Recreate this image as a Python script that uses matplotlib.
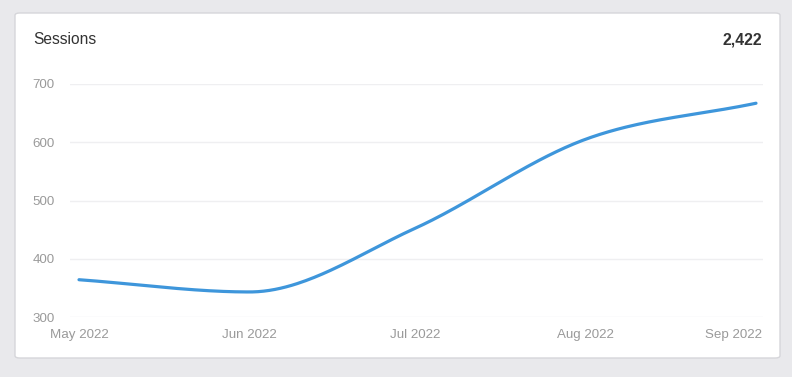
import numpy as np
import matplotlib.pyplot as plt
import matplotlib.dates as mdates
import matplotlib.transforms as mtransforms
from matplotlib.patches import FancyBboxPatch

plt.rcParams['font.family'] = ['Liberation Sans', 'DejaVu Sans']

dates = np.array(['2022-05-01', '2022-06-01', '2022-07-01', '2022-08-01', '2022-09-01'],
                 dtype='datetime64[D]')
months = ['May 2022', 'Jun 2022', 'Jul 2022', 'Aug 2022', 'Sep 2022']
sessions = [364, 343, 452, 605, 667]
y_ticks = [300, 400, 500, 600, 700]
total_label = '2,422'

W, H = 792, 377
line_color = '#3e96db'
grid_color = '#efeff1'
tick_color = '#9a9a9a'


def monotone_curve(xs, ys, n=60):
    # Fritsch-Carlson monotone cubic, like chart.js 'monotone'
    xs = np.asarray(xs, float)
    ys = np.asarray(ys, float)
    h = np.diff(xs)
    d = np.diff(ys) / h
    m = np.zeros_like(ys)
    m[0], m[-1] = d[0], d[-1]
    for i in range(1, len(ys) - 1):
        if d[i - 1] * d[i] <= 0:
            m[i] = 0
        else:
            m[i] = (d[i - 1] + d[i]) / 2
    for i in range(len(d)):
        if d[i] == 0:
            m[i] = m[i + 1] = 0
            continue
        a, b = m[i] / d[i], m[i + 1] / d[i]
        s = a * a + b * b
        if s > 9:
            t = 3 / np.sqrt(s)
            m[i], m[i + 1] = t * a * d[i], t * b * d[i]
    px, py = [], []
    for i in range(len(d)):
        t = np.linspace(0, 1, n)
        h00 = 2 * t**3 - 3 * t**2 + 1
        h10 = t**3 - 2 * t**2 + t
        h01 = -2 * t**3 + 3 * t**2
        h11 = t**3 - t**2
        px.append(xs[i] + t * h[i])
        py.append(h00 * ys[i] + h10 * h[i] * m[i] + h01 * ys[i + 1] + h11 * h[i] * m[i + 1])
    return np.concatenate(px), np.concatenate(py)


fig = plt.figure(figsize=(W / 100, H / 100), dpi=100)
fig.patch.set_facecolor('#e9e9ec')

# card
card = FancyBboxPatch((15 / W, 1 - 358 / H), 765 / W, 345 / H,
                      boxstyle='round,pad=0,rounding_size=0.006',
                      transform=fig.transFigure, facecolor='white',
                      edgecolor='#d6d6da', lw=1.0, zorder=-5)
fig.patches.append(card)

fig.text(33 / W, 1 - 40 / H, 'Sessions', ha='left', va='center',
         fontsize=11.2, color='#333333')
fig.text(762 / W, 1 - 40 / H, total_label, ha='right', va='center',
         fontsize=11.3, fontweight='bold', color='#333333')

ax = fig.add_axes([70 / W, 1 - 317 / H, 693 / W, 233 / H])
ax.set_facecolor('none')
ax.set_zorder(2)

x = mdates.date2num(dates)
cx, cy = monotone_curve(x, sessions)
ax.plot(cx, cy, color=line_color, lw=2.3, solid_capstyle='round', zorder=3)

# time scale: ~5.5 px per day, small gutter either side
day_px = 677 / (x[-1] - x[0])
ax.set_ylim(300, 700)
ax.set_xlim(x[0] - 9 / day_px, x[-1] + 7 / day_px)
ax.set_yticks(y_ticks)
ax.set_yticklabels([str(v) for v in y_ticks])
ax.set_xticks(x)
ax.set_xticklabels(months)
ax.grid(axis='y', color=grid_color, lw=1)
ax.grid(axis='x', visible=False)
for s in ax.spines.values():
    s.set_visible(False)
ax.tick_params(axis='both', length=0, colors=tick_color, labelsize=9.6)
ax.tick_params(axis='y', pad=11)
ax.tick_params(axis='x', pad=8.5)

# last label is kept inside the card, like the source chart
last = ax.get_xticklabels()[-1]
last.set_horizontalalignment('right')
last.set_transform(last.get_transform() +
                   mtransforms.ScaledTranslation(6 / 100, 0, fig.dpi_scale_trans))

fig.savefig('out.png', dpi=100, facecolor=fig.get_facecolor())
